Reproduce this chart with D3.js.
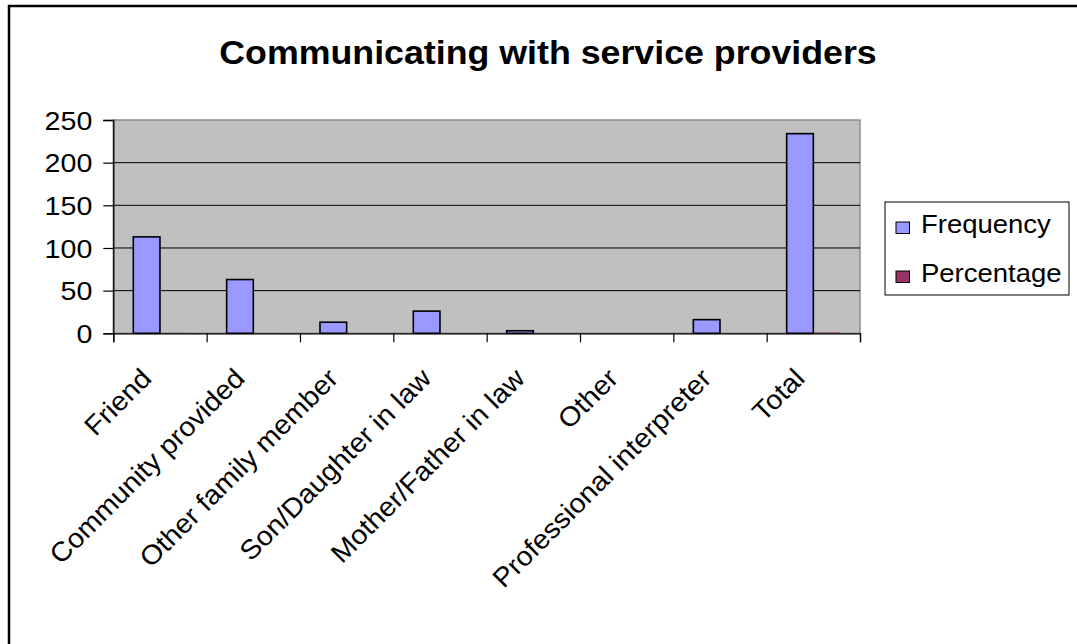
<!DOCTYPE html>
<html>
<head>
<meta charset="utf-8">
<script src="https://cdn.jsdelivr.net/npm/d3@7"></script>
<style>
  html, body { margin: 0; padding: 0; background: #ffffff; }
  svg { display: block; }
  text { font-family: Arial, "Liberation Sans", sans-serif; fill: #000; }
</style>
</head>
<body>
<svg id="chart" width="1077" height="644"></svg>
<script>
// Categories and series
const categories = [
  "Friend", "Community provided", "Other family member", "Son/Daughter in law",
  "Mother/Father in law", "Other", "Professional interpreter", "Total"
];
const seriesNames = ["Frequency", "Percentage"];
const frequency = [113, 63, 13, 26, 3, 0, 16, 234];
const percentage = [0.483, 0.269, 0.056, 0.111, 0.013, 0, 0.068, 1.0];
const yTicks = [0, 50, 100, 150, 200, 250];
const seriesColors = ["#9999FF", "#993366"];

const W = 1077, H = 644;
// text is drawn slightly wide, as in the spreadsheet renderer
const WIDE = 1.1;

const svg = d3.select("#chart");

// outer frame
svg.append("rect")
  .attr("x", 9).attr("y", 6)
  .attr("width", W + 20).attr("height", H + 20)
  .attr("fill", "#fff").attr("stroke", "#000").attr("stroke-width", 2.5);

const plot = { left: 113.3, right: 860, top: 120, bottom: 333.3 };

const x = d3.scaleBand().domain(categories).range([plot.left, plot.right]).padding(0);
const xs = d3.scaleBand().domain(seriesNames).range([0, x.bandwidth()])
  .paddingInner(0).paddingOuter(0.75);
const y = d3.scaleLinear().domain([0, 250]).range([plot.bottom, plot.top]);

// plot area
svg.append("rect")
  .attr("x", plot.left).attr("y", plot.top)
  .attr("width", plot.right - plot.left).attr("height", plot.bottom - plot.top)
  .attr("fill", "#C0C0C0").attr("stroke", "#8c8c8c").attr("stroke-width", 1.5);

// gridlines
svg.append("g").selectAll("line")
  .data(yTicks.filter(v => v > 0 && v < 250))
  .join("line")
  .attr("x1", plot.left).attr("x2", plot.right)
  .attr("y1", d => y(d)).attr("y2", d => y(d))
  .attr("stroke", "#000").attr("stroke-width", 1);

// bars
const series = [frequency, percentage];
series.forEach((vals, si) => {
  svg.append("g").selectAll("rect")
    .data(categories.map((c, i) => ({ c, v: vals[i] })))
    .join("rect")
    .attr("x", d => x(d.c) + xs(seriesNames[si]))
    .attr("width", xs.bandwidth())
    .attr("y", d => y(d.v))
    .attr("height", d => y(0) - y(d.v))
    .attr("fill", seriesColors[si])
    .attr("stroke", d => (si === 0 && d.v > 0) ? "#000" : "none")
    .attr("stroke-width", 1.6);
});

// y axis
const yAxis = svg.append("g")
  .attr("transform", `translate(${plot.left},0)`)
  .call(d3.axisLeft(y).tickValues(yTicks).tickSize(10).tickPadding(0));
yAxis.select(".domain").attr("stroke", "#000").attr("stroke-width", 1.3);
yAxis.selectAll(".tick line").attr("stroke", "#000").attr("stroke-width", 1.2);
yAxis.selectAll(".tick text").remove();
yAxis.selectAll(".tick").append("text")
  .attr("text-anchor", "end")
  .attr("font-size", 26)
  .attr("transform", `translate(-21,9.3) scale(${WIDE},1)`)
  .text(d => d);

// x axis: ticks sit on category boundaries
const xb = d3.scaleLinear().domain([0, categories.length]).range([plot.left, plot.right]);
const xAxis = svg.append("g")
  .attr("transform", `translate(0,${plot.bottom})`)
  .call(d3.axisBottom(xb).tickValues(d3.range(0, categories.length + 1))
    .tickSize(9).tickFormat(""));
xAxis.select(".domain").attr("stroke", "#000").attr("stroke-width", 1.3);
xAxis.selectAll(".tick line").attr("stroke", "#000").attr("stroke-width", 1.2);

// rotated category labels
svg.append("g").selectAll("text")
  .data(categories)
  .join("text")
  .attr("text-anchor", "end")
  .attr("font-size", 27)
  .attr("transform", d => `translate(${x(d) + x.bandwidth() / 2 - 7},380) rotate(-45) scale(1.06,1)`)
  .text(d => d);

// title
svg.append("text")
  .attr("text-anchor", "middle")
  .attr("font-size", 32.5).attr("font-weight", "bold")
  .attr("transform", `translate(548,64) scale(${WIDE},1)`)
  .text("Communicating with service providers");

// legend
const lg = svg.append("g");
lg.append("rect")
  .attr("x", 885).attr("y", 202)
  .attr("width", 1069 - 885).attr("height", 93)
  .attr("fill", "#fff").attr("stroke", "#000").attr("stroke-width", 1);
seriesNames.forEach((name, i) => {
  const base = 233 + i * 49;
  lg.append("rect")
    .attr("x", 896).attr("y", base - 11)
    .attr("width", 13.5).attr("height", 11.5)
    .attr("fill", seriesColors[i]).attr("stroke", "#000").attr("stroke-width", 1);
  lg.append("text")
    .attr("font-size", 25)
    .attr("transform", `translate(921,${base}) scale(${WIDE},1)`)
    .text(name);
});
</script>
</body>
</html>
